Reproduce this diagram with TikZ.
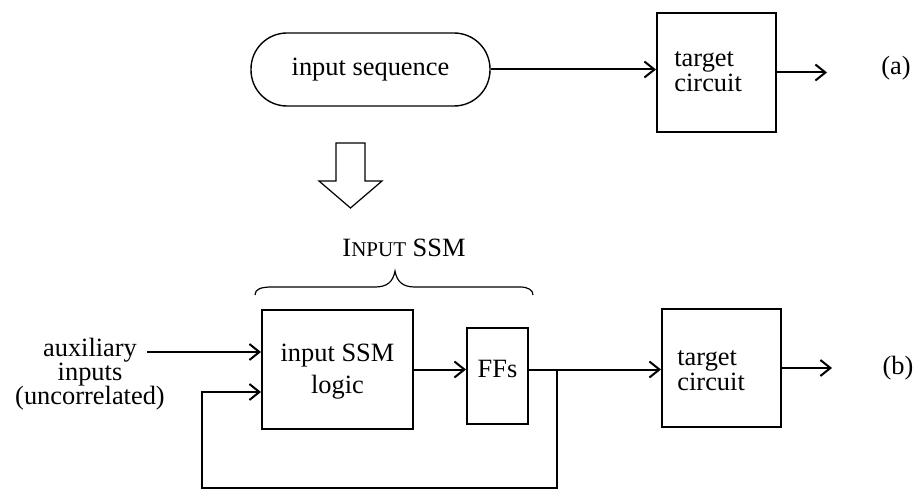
\documentclass[tikz,border=0pt]{standalone}
\usepackage{fontspec}
\setmainfont{Liberation Serif}
\usetikzlibrary{arrows.meta}
\begin{document}
\begin{tikzpicture}[x=0.5pt,y=-0.5pt,
  every node/.style={font=\fontsize{13.2}{11.5}\selectfont},
  box/.style={draw, line width=1pt, inner sep=0pt},
  lbl/.style={inner sep=0pt, align=left},
  arr/.style={line width=1pt, -{Straight Barb[length=5pt,width=8pt]}},
  thinline/.style={line width=0.6pt}]
\useasboundingbox (0,0) rectangle (917,492);

% (a) plain input sequence driving the target circuit
\node[draw, line width=0.7pt, rounded corners=18pt, minimum width=119.5pt,
      minimum height=36.5pt, inner sep=0pt] (seq) at (370.5,69.5) {input sequence};
\node[box, minimum width=59.5pt, minimum height=59.5pt] (ta) at (716.5,72.5) {};
\node[lbl, anchor=west] (tatext) at (674,72) {target\\circuit};
\coordinate (aout) at (827,72.5);
\node (la) at (896,68) {(a)};

\draw[arr] (seq.east) -- (seq.east -| ta.west);
\draw[arr] (ta.east) -- (ta.east -| aout);

% hollow transformation arrow
\draw[thinline] (336,143) -- (365,143) -- (365,181) -- (382,181) -- (350.5,208)
  -- (319,181) -- (336,181) -- cycle;

% brace over the input SSM part
\node (ssm) at (404,248) {I{\fontsize{10.5}{12}\selectfont NPUT} SSM};
\draw[thinline] (255,295) .. controls (255,289) and (261,287) .. (272,287)
  -- (375,287) .. controls (387,287) and (393,282) .. (395,271)
  .. controls (397,282) and (403,287) .. (415,287)
  -- (520,287) .. controls (528,287) and (533,290) .. (533,295);

% (b) input SSM driving the target circuit
\node[align=center, font=\fontsize{13.2}{12}\selectfont] (aux) at (90,374)
  {auxiliary\\inputs\\(uncorrelated)};
\coordinate (auxout) at (147,352);
\node[box, minimum width=75.5pt, minimum height=59.5pt] (logic) at (337.5,369.5) {};
\node[align=center, font=\fontsize{13.2}{16}\selectfont] (logictext) at (337.5,372)
  {input SSM\\logic};
\node[box, minimum width=30.5pt, minimum height=48pt] (ffs) at (497.5,376) {};
\node (ffstext) at (497.5,369) {FFs};
\node[box, minimum width=59.5pt, minimum height=59pt] (tb) at (721.5,368) {};
\node[lbl, anchor=west] (tbtext) at (677,371) {target\\circuit};
\coordinate (bout) at (832,368);
\node (lb) at (898,368) {(b)};

\coordinate (bus) at (557,369.5);
\coordinate (fbcorner) at (202,488);
\coordinate (fbin) at (202,392);

\draw[arr] (auxout) -- (auxout -| logic.west);
\draw[arr] (logic.east) -- (logic.east -| ffs.west);
\draw[arr] (ffs.east |- bus) -- (bus -| tb.west);
\draw[arr] (bus) |- (fbcorner) |- (fbin -| logic.west);
\draw[arr] (tb.east) -- (tb.east -| bout);
\end{tikzpicture}
\end{document}
